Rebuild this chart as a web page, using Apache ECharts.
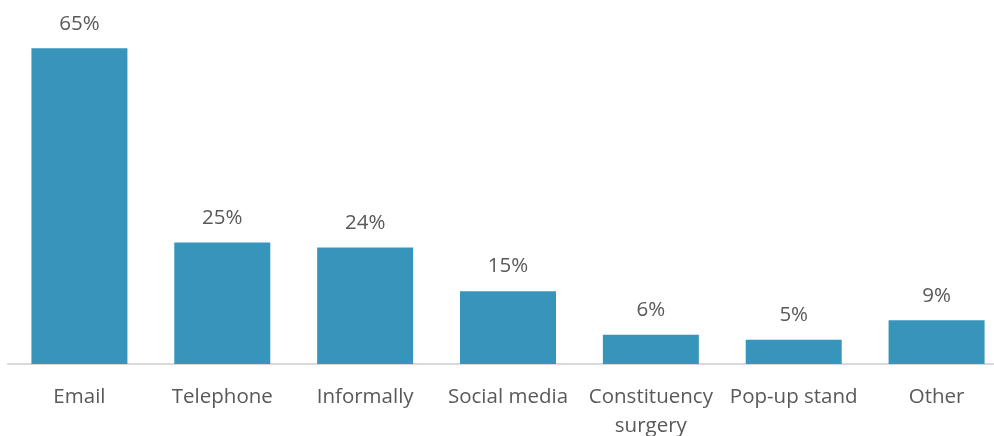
<!DOCTYPE html>
<html>
<head>
<meta charset="utf-8">
<script src="https://cdn.jsdelivr.net/npm/echarts@6/dist/echarts.min.js"></script>
<style>
  html, body { margin: 0; padding: 0; background: #fff; }
  #chart { width: 994px; height: 436px; }
</style>
</head>
<body>
<div id="chart"></div>
<script>
var categories = ['Email', 'Telephone', 'Informally', 'Social media', 'Constituency\nsurgery', 'Pop-up stand', 'Other'];
var shares = [65, 25, 24, 15, 6, 5, 9];

var chartDom = document.getElementById('chart');
var myChart = echarts.init(chartDom);

var option = {
  animation: false,
  textStyle: { fontFamily: '"Open Sans", sans-serif' },
  grid: {
    left: 8,
    right: -14,
    top: 24,
    bottom: 72,
    outerBoundsMode: 'none'
  },
  xAxis: {
    type: 'category',
    data: categories,
    axisLine: { lineStyle: { color: '#d9d9d9', width: 2 } },
    axisTick: { show: false },
    axisLabel: {
      color: '#595959',
      fontSize: 20.5,
      margin: 19,
      lineHeight: 29,
      interval: 0
    }
  },
  yAxis: {
    type: 'value',
    min: 0,
    max: 70,
    show: false,
    splitLine: { show: false }
  },
  series: [
    {
      type: 'bar',
      data: shares,
      barWidth: 96,
      itemStyle: { color: '#3795bc' },
      label: {
        show: true,
        position: 'top',
        distance: 14,
        color: '#595959',
        fontSize: 20.5,
        formatter: '{c}%'
      }
    }
  ]
};

option && myChart.setOption(option);
</script>
</body>
</html>
